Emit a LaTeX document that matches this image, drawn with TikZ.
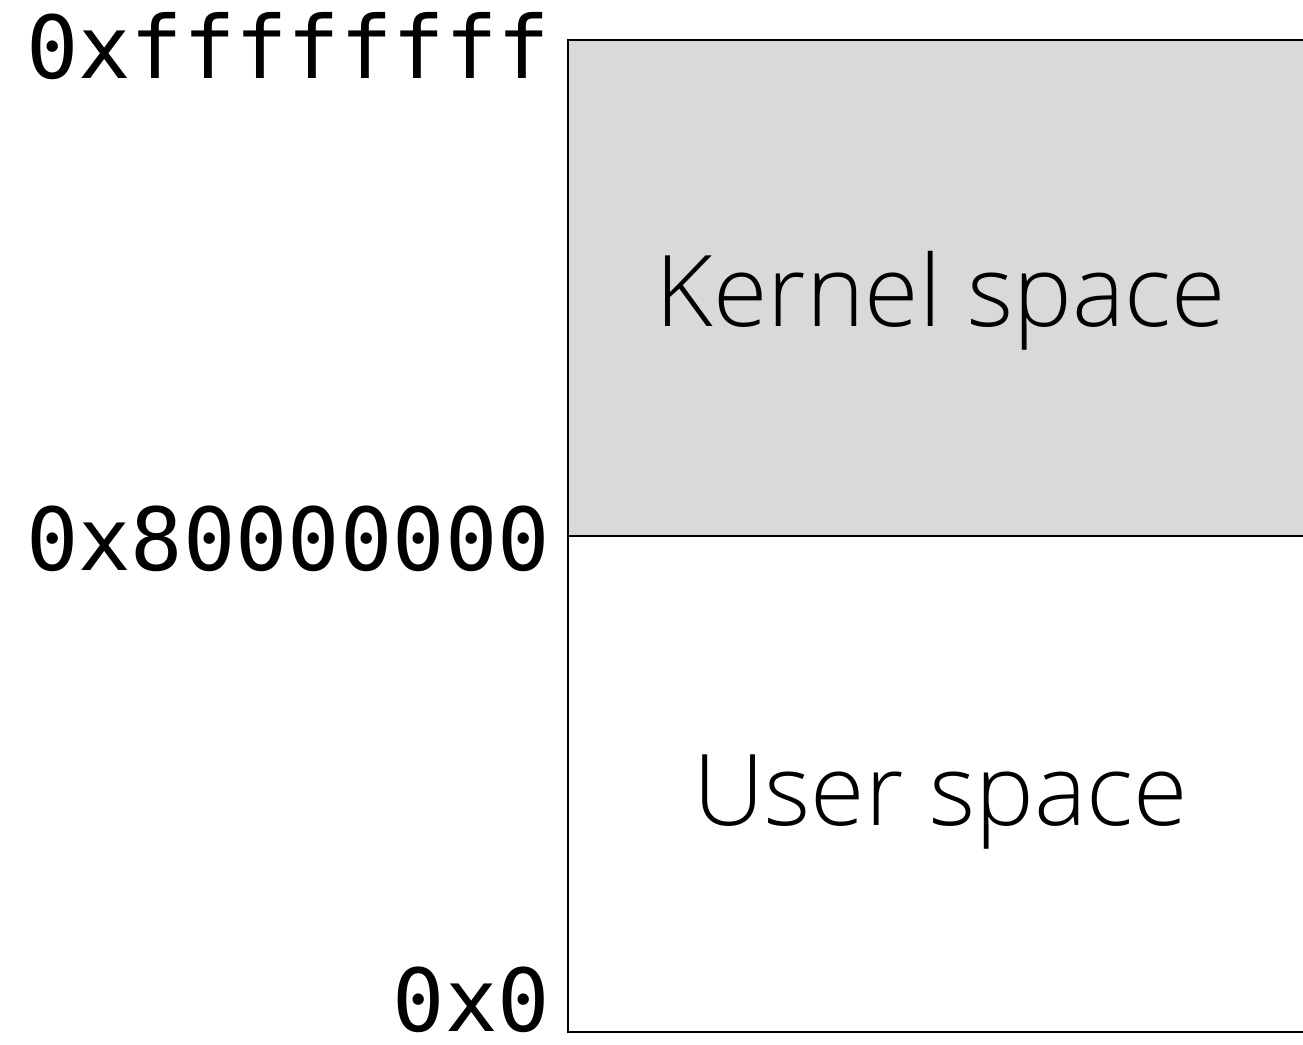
\documentclass[tikz,border=0pt]{standalone}
\usepackage{fontspec}
\newfontfamily\addrfont{DejaVu Sans Mono}
\newfontfamily\regionfont{Open Sans Light}
\begin{document}
\begin{tikzpicture}[x=1pt,y=-1pt,
  addr/.style={anchor=base east,inner sep=0pt,text depth=0pt,font=\addrfont\fontsize{87}{87}\selectfont},
  region/.style={anchor=base,inner sep=0pt,font=\regionfont\fontsize{99}{99}\selectfont},
  wall/.style={draw=black,line width=2.8pt}]
\useasboundingbox (0,0) rectangle (1303,1044);
% address space column
\fill[fill=black!15] (568,40) rectangle (1320,536);
\draw[wall] (1320,40) -- (568,40) -- (568,1032) -- (1320,1032);
\draw[wall] (568,536) -- (1320,536);
% region names
\node[region] (kernel) at (941,326) {Kernel space};
\node[region] (user) at (941,825) {User space};
% boundary addresses
\node[addr] (top) at (550,78) {0xffffffff};
\node[addr] (mid) at (550,570) {0x80000000};
\node[addr] (bot) at (550,1031) {0x0};
\end{tikzpicture}
\end{document}
